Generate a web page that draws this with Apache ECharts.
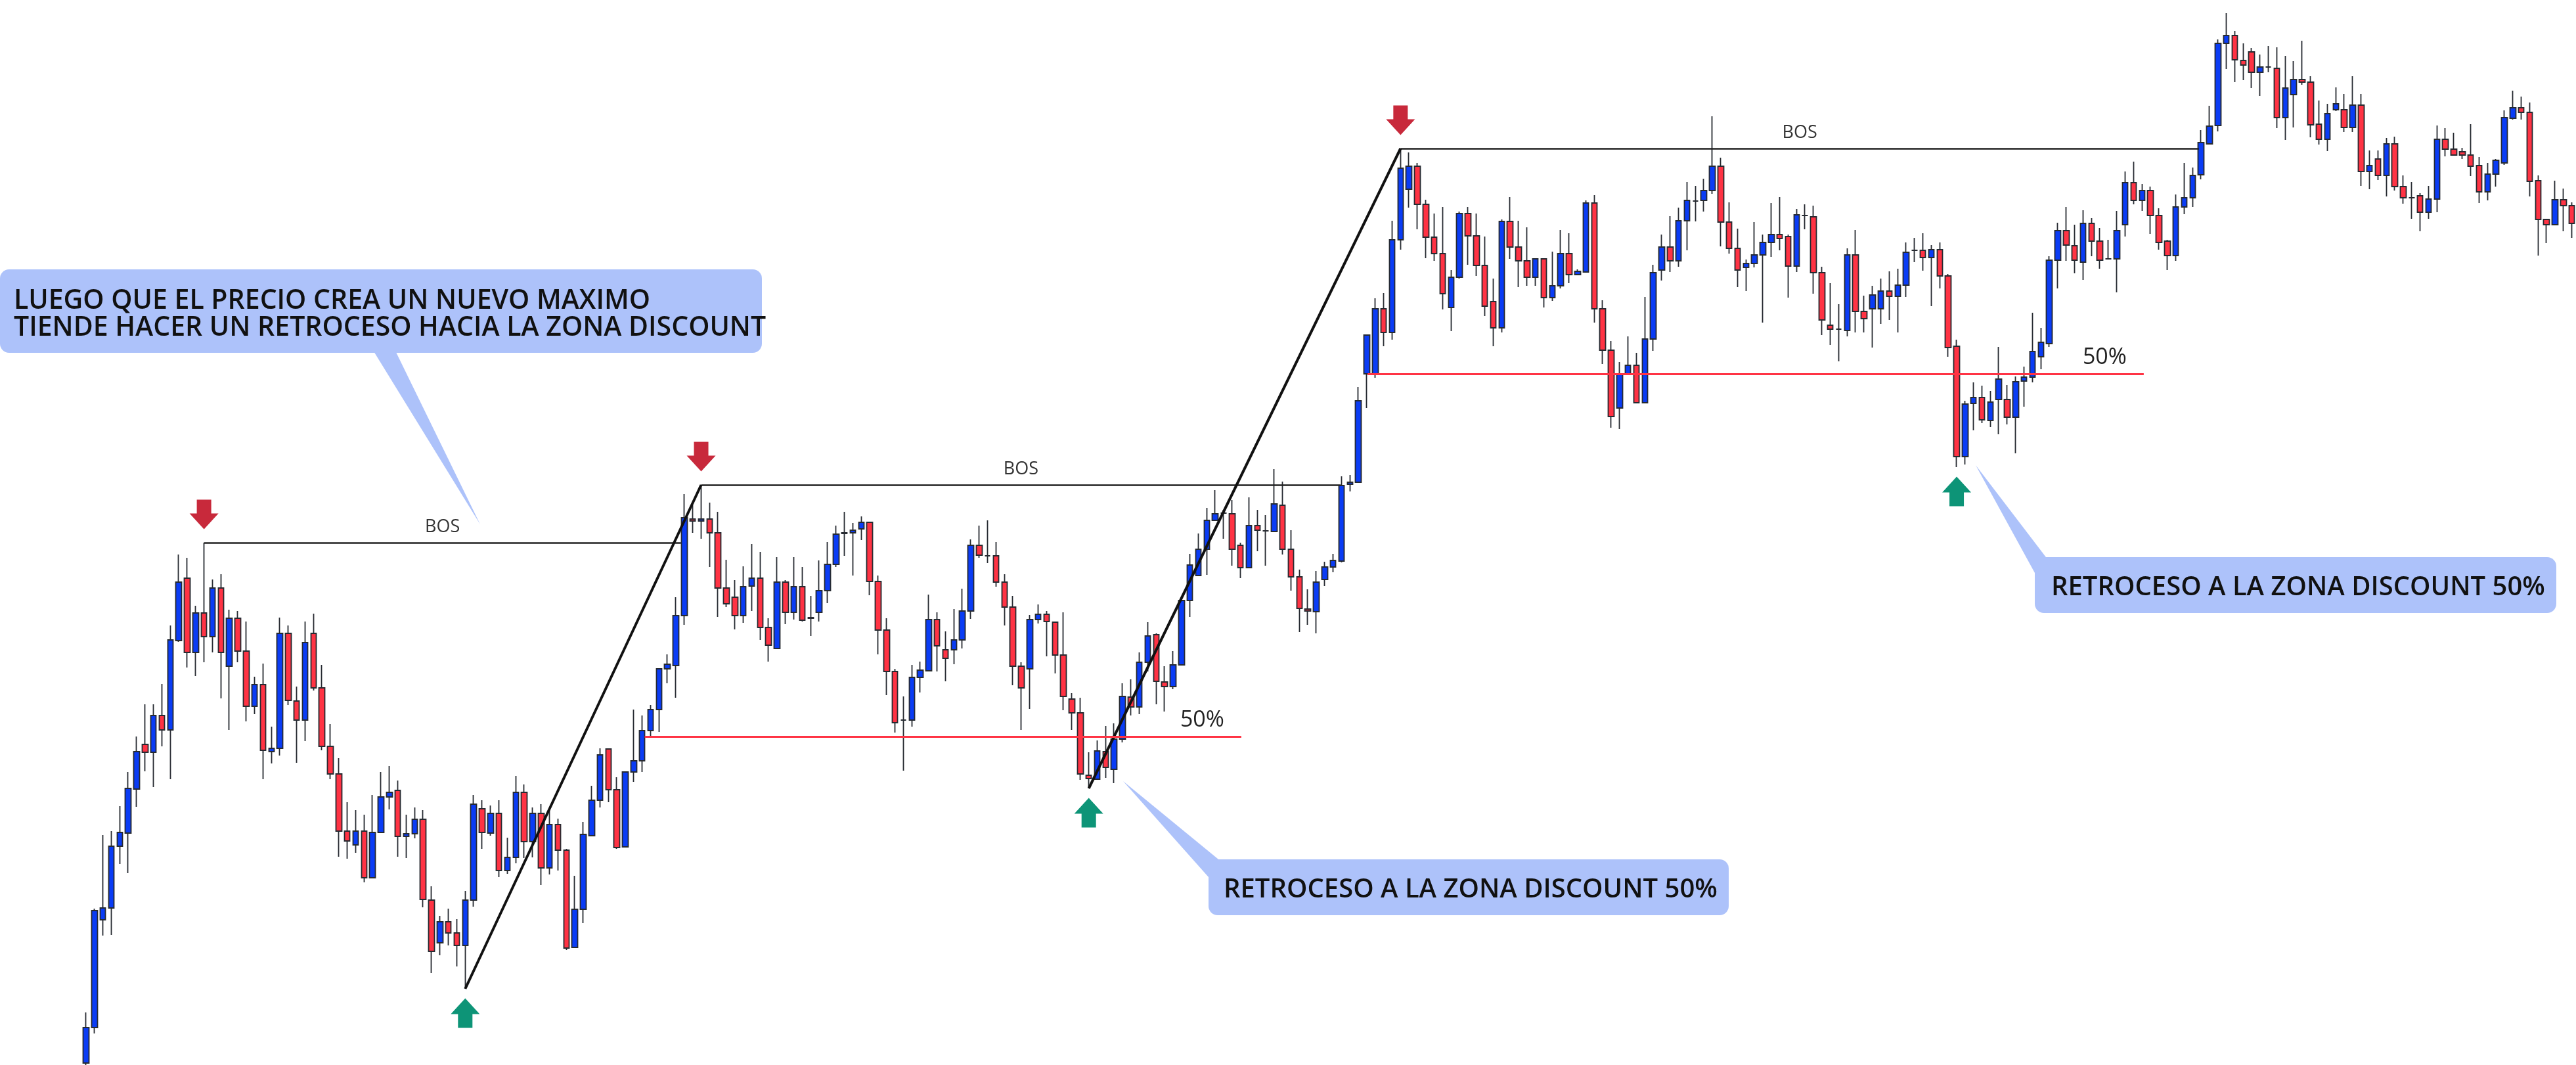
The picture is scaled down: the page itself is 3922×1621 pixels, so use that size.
<!DOCTYPE html>
<html>
<head>
<meta charset="utf-8">
<script src="https://cdn.jsdelivr.net/npm/echarts@6/dist/echarts.min.js"></script>
<style>
  html, body { margin: 0; padding: 0; background: #fff; }
  #main { width: 3922px; height: 1621px; }
</style>
</head>
<body>
<div id="main"></div>
<script>
// price series, one value per candle (arbitrary price units)
const opens = [
  3, 57, 221, 239, 333, 353, 420, 488, 476, 532,
  510, 646, 741, 628, 688, 652, 726, 607, 680, 630,
  546, 579, 477, 482, 657, 554, 525, 657, 574, 485,
  443, 356, 335, 356, 285, 354, 408, 418, 348, 352,
  374, 251, 186, 218, 201, 182, 251, 390, 353, 383,
  296, 316, 415, 340, 383, 300, 366, 327, 179, 237,
  349, 403, 481, 419, 332, 446, 463, 509, 541, 603,
  608, 684, 831, 828, 831, 810, 726, 712, 684, 729,
  741, 666, 634, 735, 689, 728, 681, 689, 722, 762,
  809, 810, 816, 826, 736, 662, 599, 525, 525, 590,
  600, 678, 632, 632, 647, 691, 791, 775, 775, 735,
  697, 607, 603, 678, 686, 674, 624, 557, 536, 441,
  435, 477, 450, 496, 560, 545, 613, 655, 583, 576,
  609, 707, 745, 785, 829, 840, 839, 791, 757, 821,
  813, 812, 852, 785, 743, 694, 690, 739, 758, 767,
  884, 887, 1052, 1052, 1151, 1115, 1256, 1333, 1368, 1310,
  1260, 1235, 1153, 1199, 1296, 1262, 1217, 1162, 1122, 1284,
  1245, 1224, 1199, 1227, 1168, 1186, 1235, 1203, 1207, 1312,
  1151, 1088, 1000, 1051, 1065, 1008, 1105, 1210, 1245, 1224,
  1285, 1315, 1316, 1331, 1368, 1283, 1243, 1214, 1220, 1233,
  1252, 1264, 1261, 1216, 1293, 1291, 1206, 1126, 1120, 1118,
  1233, 1147, 1151, 1151, 1178, 1170, 1187, 1240, 1240, 1229,
  1241, 1201, 1094, 926, 1007, 1016, 981, 1013, 1013, 986,
  1041, 1047, 1078, 1098, 1225, 1270, 1247, 1222, 1281, 1254,
  1227, 1227, 1279, 1343, 1316, 1331, 1293, 1254, 1232, 1306,
  1320, 1355, 1402, 1430, 1555, 1567, 1529, 1542, 1511, 1519,
  1517, 1442, 1477, 1500, 1496, 1432, 1409, 1454, 1454, 1427,
  1461, 1360, 1379, 1354, 1402, 1337, 1320, 1323, 1298, 1318,
  1409, 1394, 1390, 1385, 1369, 1329, 1356, 1373, 1441, 1457,
  1450, 1346, 1287, 1279, 1317, 1308
];
const closes = [
  57, 235, 239, 333, 354, 421, 477, 476, 532, 510,
  647, 735, 628, 688, 652, 726, 628, 680, 630, 546,
  579, 479, 482, 657, 555, 525, 643, 574, 485, 443,
  356, 341, 356, 285, 354, 408, 415, 348, 352, 374,
  252, 173, 218, 201, 182, 251, 397, 354, 383, 296,
  316, 415, 340, 383, 300, 366, 327, 178, 237, 351,
  403, 472, 419, 331, 446, 463, 509, 541, 603, 610,
  684, 833, 828, 831, 810, 726, 702, 684, 728, 741,
  666, 639, 735, 689, 728, 677, 680, 722, 762, 808,
  810, 814, 826, 736, 662, 599, 521, 525, 590, 601,
  678, 638, 619, 647, 691, 791, 776, 775, 735, 697,
  607, 574, 678, 686, 675, 624, 561, 536, 443, 436,
  478, 453, 496, 561, 545, 613, 653, 584, 576, 609,
  707, 761, 785, 829, 839, 840, 785, 757, 821, 814,
  813, 854, 785, 743, 695, 691, 735, 758, 768, 882,
  887, 1011, 1111, 1151, 1115, 1256, 1365, 1368, 1310, 1260,
  1235, 1174, 1199, 1296, 1262, 1217, 1155, 1122, 1284, 1245,
  1224, 1199, 1227, 1168, 1186, 1235, 1203, 1208, 1312, 1151,
  1088, 987, 1051, 1065, 1008, 1105, 1206, 1245, 1224, 1285,
  1316, 1315, 1331, 1368, 1283, 1243, 1210, 1220, 1233, 1252,
  1264, 1258, 1216, 1294, 1293, 1206, 1134, 1120, 1120, 1233,
  1147, 1136, 1172, 1178, 1170, 1187, 1237, 1240, 1229, 1241,
  1201, 1092, 926, 1006, 1016, 982, 1009, 1044, 986, 1040,
  1047, 1086, 1100, 1225, 1270, 1248, 1225, 1281, 1254, 1225,
  1227, 1270, 1343, 1316, 1331, 1293, 1252, 1232, 1306, 1320,
  1354, 1404, 1429, 1555, 1567, 1530, 1522, 1511, 1519, 1519,
  1442, 1487, 1500, 1496, 1431, 1409, 1448, 1463, 1427, 1461,
  1360, 1369, 1354, 1402, 1337, 1320, 1320, 1298, 1318, 1409,
  1394, 1385, 1385, 1368, 1329, 1356, 1377, 1442, 1457, 1450,
  1345, 1287, 1279, 1317, 1308, 1281
];
const lows = [
  0, 48, 197, 198, 306, 292, 393, 447, 423, 485,
  435, 644, 605, 592, 613, 628, 558, 510, 613, 523,
  534, 435, 459, 471, 548, 460, 493, 570, 479, 435,
  317, 314, 323, 278, 285, 354, 389, 317, 315, 345,
  240, 140, 167, 182, 150, 116, 241, 329, 349, 286,
  291, 307, 315, 316, 274, 290, 296, 175, 179, 216,
  349, 392, 400, 329, 332, 431, 446, 499, 507, 581,
  559, 670, 810, 801, 758, 682, 697, 663, 673, 691,
  647, 614, 634, 671, 678, 675, 653, 675, 703, 758,
  775, 745, 799, 715, 625, 563, 506, 448, 515, 567,
  600, 599, 584, 610, 634, 679, 772, 764, 728, 669,
  578, 510, 542, 672, 622, 596, 540, 510, 434, 421,
  435, 437, 429, 491, 532, 534, 599, 549, 538, 572,
  609, 682, 745, 746, 829, 801, 760, 741, 756, 782,
  760, 812, 777, 722, 659, 670, 657, 729, 750, 765,
  873, 886, 1000, 1046, 1094, 1104, 1241, 1305, 1272, 1228,
  1224, 1150, 1117, 1197, 1218, 1201, 1140, 1094, 1115, 1227,
  1184, 1186, 1186, 1153, 1163, 1182, 1190, 1203, 1207, 1130,
  1067, 970, 968, 1051, 1008, 1008, 1087, 1194, 1207, 1215,
  1240, 1284, 1299, 1326, 1246, 1235, 1184, 1178, 1214, 1130,
  1230, 1240, 1168, 1207, 1272, 1174, 1111, 1096, 1071, 1109,
  1115, 1115, 1092, 1128, 1134, 1115, 1169, 1222, 1209, 1155,
  1182, 1078, 910, 914, 966, 977, 971, 960, 975, 931,
  1002, 1039, 1059, 1093, 1182, 1224, 1205, 1195, 1231, 1212,
  1227, 1176, 1261, 1310, 1300, 1265, 1241, 1210, 1224, 1295,
  1306, 1348, 1401, 1421, 1516, 1496, 1499, 1487, 1475, 1511,
  1426, 1408, 1427, 1492, 1412, 1401, 1391, 1452, 1420, 1420,
  1338, 1333, 1347, 1322, 1331, 1311, 1288, 1269, 1288, 1298,
  1383, 1385, 1379, 1353, 1312, 1316, 1337, 1370, 1439, 1439,
  1322, 1232, 1251, 1279, 1269, 1259
];
const highs = [
  80, 238, 350, 356, 394, 446, 500, 549, 549, 580,
  669, 777, 772, 699, 795, 739, 747, 693, 691, 675,
  591, 611, 515, 681, 669, 576, 675, 687, 609, 519,
  467, 400, 388, 381, 411, 446, 455, 433, 381, 392,
  388, 272, 227, 238, 222, 265, 411, 403, 395, 403,
  346, 440, 427, 392, 397, 389, 375, 329, 288, 370,
  425, 482, 482, 438, 446, 541, 532, 548, 603, 625,
  712, 869, 852, 883, 856, 842, 769, 738, 759, 793,
  781, 680, 773, 738, 773, 758, 714, 768, 796, 821,
  842, 825, 835, 826, 745, 680, 603, 561, 609, 614,
  716, 689, 660, 694, 725, 800, 821, 829, 796, 747,
  714, 613, 685, 701, 691, 675, 689, 566, 559, 476,
  494, 516, 520, 581, 587, 628, 674, 657, 607, 630,
  707, 778, 809, 848, 875, 845, 860, 795, 864, 845,
  837, 907, 888, 814, 754, 724, 752, 766, 778, 896,
  898, 1032, 1111, 1167, 1175, 1285, 1395, 1389, 1373, 1317,
  1296, 1306, 1210, 1299, 1306, 1296, 1261, 1197, 1287, 1321,
  1285, 1275, 1227, 1227, 1238, 1271, 1266, 1211, 1316, 1324,
  1164, 1102, 1070, 1109, 1084, 1169, 1218, 1264, 1292, 1305,
  1344, 1338, 1349, 1444, 1381, 1313, 1273, 1226, 1283, 1264,
  1312, 1321, 1264, 1303, 1310, 1308, 1215, 1190, 1158, 1243,
  1271, 1171, 1186, 1197, 1208, 1212, 1252, 1259, 1266, 1248,
  1252, 1204, 1104, 1011, 1039, 1034, 1026, 1093, 1035, 1048,
  1063, 1145, 1122, 1231, 1282, 1306, 1279, 1301, 1289, 1274,
  1256, 1300, 1360, 1375, 1341, 1337, 1304, 1256, 1325, 1373,
  1366, 1423, 1460, 1561, 1601, 1574, 1555, 1548, 1538, 1551,
  1549, 1536, 1528, 1559, 1505, 1468, 1463, 1488, 1478, 1505,
  1478, 1392, 1392, 1411, 1413, 1354, 1344, 1327, 1338, 1430,
  1426, 1419, 1396, 1432, 1382, 1373, 1379, 1453, 1483, 1474,
  1465, 1354, 1288, 1346, 1334, 1313
];

// annotations, in candle index / price units
const swingHighIdx = [14, 73, 156];     // red arrows, BOS starts
const swingLowIdx = [45, 119, 222];     // green arrows
const bosEndIdx = [70.6, 148.9, 250.75];
const impulseLegs = [[45, 73], [119, 156]];
const halfLevels = [499.5, 1051.5];
const halfSpans = [[66.3, 137.1], [152.1, 244.2]];

const callouts = [
  { lines: ['LUEGO QUE EL PRECIO CREA UN NUEVO MAXIMO', 'TIENDE HACER UN RETROCESO HACIA LA ZONA DISCOUNT'] },
  { lines: ['RETROCESO A LA ZONA DISCOUNT 50%'] },
  { lines: ['RETROCESO A LA ZONA DISCOUNT 50%'] }
];

const BLUE = '#0a3cf5';
const RED = '#ff3344';
const EDGE = '#262a31';
const BOX = 'rgb(173,194,250)';
const FONT = '"Open Sans", "Noto Sans", sans-serif';
const BIG_FONT = '600 41px ' + FONT;
const CALLOUT_FONT = '600 40px ' + FONT;

const cats = opens.map((_, i) => String(i));
const ohlc = opens.map((o, i) => [o, closes[i], lows[i], highs[i]]);

const downArrow = 'path://M11,0 H33 V21 H44 L22,45 L0,21 H11 Z';
const upArrow = 'path://M22,0 L44,24 H33 V45 H11 V24 H0 Z';

const marks = [];
swingHighIdx.forEach((idx, k) => {
  marks.push([
    { coord: [idx, highs[idx]], lineStyle: { color: '#222', width: 2.5, type: 'solid' },
      label: { show: true, formatter: 'BOS', position: 'insideMiddleTop', distance: 10,
               fontSize: 27, color: '#333', fontFamily: FONT } },
    { coord: [bosEndIdx[k], highs[idx]] }
  ]);
});
impulseLegs.forEach(([a, b]) => {
  marks.push([
    { coord: [a, lows[a]], lineStyle: { color: '#111', width: 4, type: 'solid' } },
    { coord: [b, highs[b]] }
  ]);
});
halfLevels.forEach((lv, k) => {
  marks.push([
    { coord: [halfSpans[k][0], lv], lineStyle: { color: RED, width: 3, type: 'solid' },
      label: { show: true, formatter: '50%', position: 'insideEndTop', distance: 8,
               padding: [0, 18, 0, 0], fontSize: 34, color: '#222', fontFamily: FONT } },
    { coord: [halfSpans[k][1], lv] }
  ]);
});

const chart = echarts.init(document.getElementById('main'), null, { renderer: 'canvas' });

const option = {
  animation: false,
  backgroundColor: '#ffffff',
  grid: { left: 124.6, width: 3800.6, top: 0, height: 1621 },
  xAxis: [
    { type: 'category', data: cats, show: false, boundaryGap: true },
    { type: 'value', min: -0.5, max: cats.length - 0.5, show: false }
  ],
  yAxis: { type: 'value', min: 0, max: 1621, show: false },
  series: [
    {
      type: 'candlestick',
      data: ohlc,
      barWidth: 9,
      itemStyle: {
        color: BLUE, color0: RED,
        borderColor: EDGE, borderColor0: EDGE, borderColorDoji: EDGE,
        borderWidth: 1.8
      },
      z: 2
    },
    {
      type: 'line',
      xAxisIndex: 1,
      data: [[0, 0]],
      showSymbol: false,
      lineStyle: { opacity: 0 },
      silent: true,
      z: 3,
      markLine: {
        silent: true,
        symbol: ['none', 'none'],
        lineStyle: { type: 'solid' },
        label: { show: false },
        data: marks
      }
    },
    {
      type: 'scatter',
      data: swingHighIdx.map(i => [i, highs[i]]),
      symbol: downArrow,
      symbolSize: [44, 45],
      symbolOffset: [0, -43],
      itemStyle: { color: '#c8293b', opacity: 1 },
      silent: true,
      z: 4
    },
    {
      type: 'scatter',
      data: swingLowIdx.map(i => [i, lows[i]]),
      symbol: upArrow,
      symbolSize: [44, 45],
      symbolOffset: [0, 37],
      itemStyle: { color: '#0d9477', opacity: 1 },
      silent: true,
      z: 4
    }
  ],
  graphic: [
    // top-left callout
    { type: 'polygon', shape: { points: [[566, 530], [600, 530], [731, 798]] }, style: { fill: BOX }, z: 10 },
    { type: 'rect', shape: { x: 0, y: 410, width: 1160, height: 127, r: 14 }, style: { fill: BOX }, z: 10 },
    { type: 'text', x: 21, y: 458, style: { text: callouts[0].lines[0], font: BIG_FONT, fill: '#111', verticalAlign: 'middle' }, z: 11 },
    { type: 'text', x: 21, y: 499, style: { text: callouts[0].lines[1], font: BIG_FONT, fill: '#111', verticalAlign: 'middle' }, z: 11 },
    // middle callout
    { type: 'polygon', shape: { points: [[1710, 1189], [1860, 1312], [1840, 1335]] }, style: { fill: BOX }, z: 10 },
    { type: 'rect', shape: { x: 1840, y: 1308, width: 792, height: 85, r: 14 }, style: { fill: BOX }, z: 10 },
    { type: 'text', x: 1863, y: 1355, style: { text: callouts[1].lines[0], font: CALLOUT_FONT, fill: '#111', verticalAlign: 'middle' }, z: 11 },
    // right callout
    { type: 'polygon', shape: { points: [[3008, 708], [3118, 852], [3098, 872]] }, style: { fill: BOX }, z: 10 },
    { type: 'rect', shape: { x: 3098, y: 848, width: 794, height: 85, r: 14 }, style: { fill: BOX }, z: 10 },
    { type: 'text', x: 3123, y: 895, style: { text: callouts[2].lines[0], font: CALLOUT_FONT, fill: '#111', verticalAlign: 'middle' }, z: 11 }
  ]
};

chart.setOption(option);
</script>
</body>
</html>
